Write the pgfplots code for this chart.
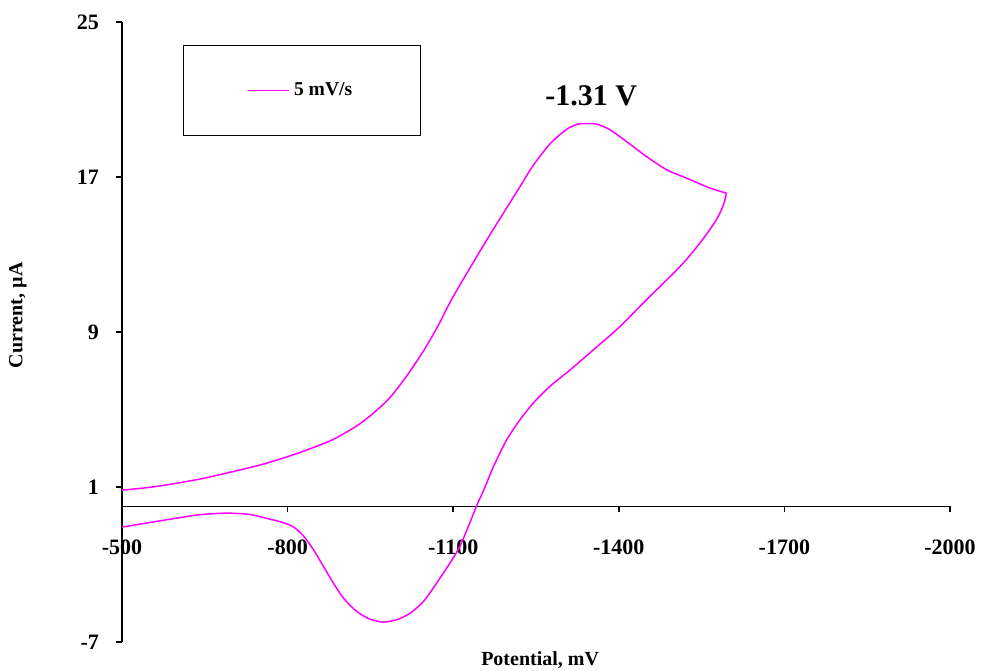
\documentclass[border=0pt]{standalone}
\usepackage{fontspec}
\setmainfont{Liberation Serif}
\usepackage{pgfplots}
\pgfplotsset{compat=1.18}
\definecolor{cvmag}{RGB}{255,0,255}
\begin{document}
\begin{tikzpicture}
\useasboundingbox (-61pt,-14pt) rectangle (431pt,321pt);
\begin{axis}[
  at={(0,0)}, anchor=south west,
  scale only axis, width=414pt, height=310pt,
  xmin=-2000, xmax=-500, x dir=reverse,
  ymin=-7, ymax=25,
  axis x line=middle, axis y line=left,
  axis line style={-, black, line width=0.75pt},
  hide obscured x ticks=false,
  xtick={-500,-800,-1100,-1400,-1700,-2000},
  xticklabels={-500,-800,-1100,-1400,-1700,-2000},
  ytick={-7,1,9,17,25},
  yticklabels={-7,1,9,17,25},
  minor tick num=0,
  tick align=outside,
  major tick length=3pt,
  tick style={black, line width=0.75pt},
  x tick label style={font=\bfseries\fontsize{11}{13}\selectfont, anchor=north, yshift=-10pt},
  y tick label style={font=\bfseries\fontsize{11}{13}\selectfont, anchor=east, xshift=-5pt},
  xlabel={Potential, mV},
  ylabel={Current, µA},
  x label style={font=\bfseries\fontsize{10}{12}\selectfont, at={(axis description cs:0.505,-0.029)}, anchor=center},
  y label style={font=\bfseries\fontsize{10}{12}\selectfont, at={(axis description cs:-0.1256,0.527)}, anchor=center},
  legend style={at={(axis description cs:0.0737,0.963)}, anchor=north west, draw=black, line width=0.5pt,
    inner xsep=32pt, inner ysep=16.5pt, font=\bfseries\fontsize{9.8}{11}\selectfont},
  legend image code/.code={\draw[#1] (0pt,0pt) -- (20.5pt,0pt);},
  clip=false,
]
% forward scan
\addplot[color=cvmag, line width=0.75pt, smooth, tension=0.45] coordinates {
(-500,0.84) (-540,0.95) (-581,1.11) (-641,1.41) (-702,1.80) (-762,2.23) (-822,2.78)
(-880,3.42) (-925,4.15) (-955,4.80) (-985,5.60) (-1015,6.70) (-1049,8.15) (-1075,9.45) (-1100,10.83)
(-1161,13.76) (-1221,16.50) (-1245,17.60) (-1275,18.70) (-1305,19.45)
(-1326,19.73) (-1343,19.76) (-1360,19.73) (-1384,19.44) (-1414,18.83) (-1450,18.06)
(-1487,17.37) (-1523,16.94) (-1565,16.43) (-1595,16.17)
};
\addlegendentry{5 mV/s}
% reverse scan
\addplot[color=cvmag, line width=0.75pt, smooth, tension=0.45, forget plot] coordinates {
(-1595,16.17) (-1590,15.60) (-1577,14.80) (-1547,13.59) (-1511,12.38) (-1450,10.66) (-1402,9.28)
(-1354,8.08) (-1312,7.05) (-1275,6.19) (-1245,5.33) (-1221,4.47) (-1197,3.44)
(-1173,2.06) (-1157,0.95) (-1142,0.00) (-1130,-0.86) (-1112,-2.07) (-1094,-2.93)
(-1070,-3.96) (-1046,-4.91) (-1022,-5.51) (-998,-5.85) (-973,-5.97) (-949,-5.82)
(-925,-5.42) (-901,-4.73) (-883,-3.96) (-865,-3.10) (-847,-2.24) (-828,-1.50)
(-810,-1.05) (-790,-0.82) (-768,-0.66) (-732,-0.42) (-690,-0.35)
(-641,-0.43) (-581,-0.69) (-500,-1.07)
};
\node[font=\bfseries\fontsize{15}{17}\selectfont] at (axis cs:-1350,21.2) {-1.31 V};
\end{axis}
\end{tikzpicture}
\end{document}
